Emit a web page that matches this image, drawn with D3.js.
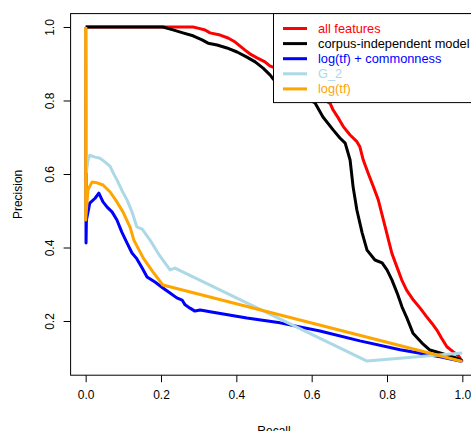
<!DOCTYPE html>
<html>
<head>
<meta charset="utf-8">
<script src="https://cdn.jsdelivr.net/npm/d3@7"></script>
<style>
html,body{margin:0;padding:0;background:#fff;overflow:hidden;}
text{font-family:"Liberation Sans",Arial,Helvetica,sans-serif;}
</style>
</head>
<body>
<svg id="chart" width="471" height="431"></svg>
<script>
// ---- data ----
const seriesNames = ["all features","corpus-independent model","log(tf) + commonness","G_2","log(tf)"];
const seriesColors = ["#ff0000","#000000","#0000ff","#add8e6","#ffa500"];

const allFeaturesRecall = [0,0.285,0.298,0.317,0.330,0.357,0.378,0.397,0.410,0.423,0.436,0.455,0.476,0.489,0.497,
  0.649,0.657,0.671,0.684,0.702,0.720,0.728,0.737,0.750,0.764,0.777,0.786,0.795,0.804,0.813,0.826,0.839,0.852,0.870,0.888,0.905,0.919,0.932,0.945,0.959,0.976,0.989,1.0];
const allFeaturesPrecision = [1.0,1.0,0.997,0.992,0.984,0.978,0.970,0.959,0.948,0.937,0.927,0.916,0.905,0.894,0.891,
  0.792,0.774,0.752,0.729,0.706,0.688,0.674,0.638,0.602,0.565,0.529,0.493,0.457,0.420,0.384,0.348,0.312,0.284,0.257,0.235,0.212,0.194,0.176,0.153,0.130,0.116,0.107,0.089];

const corpusIndRecall = [0,0.205,0.232,0.258,0.285,0.309,0.325,0.349,0.375,0.402,0.428,0.450,0.471,0.490,0.498,
  0.609,0.630,0.657,0.675,0.689,0.702,0.710,0.720,0.734,0.747,0.768,0.787,0.800,0.813,0.827,0.840,0.853,0.869,0.893,0.914,0.941,0.986,1.0];
const corpusIndPrecision = [1.0,1.0,0.992,0.984,0.976,0.965,0.956,0.951,0.943,0.932,0.918,0.905,0.888,0.869,0.858,
  0.793,0.755,0.720,0.698,0.684,0.638,0.565,0.502,0.440,0.393,0.366,0.358,0.339,0.312,0.276,0.238,0.208,0.167,0.140,0.121,0.113,0.099,0.091];

const logtfCommRecall = [0,0.001,0.002,0.011,0.025,0.035,0.046,0.057,0.070,0.083,0.096,0.110,0.123,0.136,0.150,0.163,0.184,0.205,0.224,0.242,0.256,0.264,0.277,0.290,0.304,0.338,0.428,0.516,0.622,0.728,0.835,0.941,1.0];
const logtfCommPrecision = [1.0,0.412,0.475,0.521,0.534,0.548,0.524,0.510,0.497,0.475,0.442,0.412,0.385,0.369,0.344,0.320,0.306,0.290,0.276,0.263,0.257,0.244,0.235,0.227,0.230,0.224,0.208,0.195,0.173,0.146,0.122,0.103,0.090];

const g2Recall = [0,0.002,0.006,0.011,0.025,0.038,0.051,0.065,0.072,0.083,0.096,0.110,0.123,0.136,0.150,0.171,0.197,0.224,0.237,0.747,1.0];
const g2Precision = [1.0,0.605,0.637,0.651,0.646,0.643,0.633,0.621,0.605,0.584,0.556,0.529,0.497,0.456,0.450,0.420,0.377,0.339,0.344,0.091,0.113];

const logtfRecall = [0,0,0.006,0.017,0.030,0.046,0.065,0.083,0.099,0.118,0.128,0.153,0.179,0.205,1.0];
const logtfPrecision = [1.0,0.475,0.557,0.578,0.576,0.570,0.551,0.524,0.497,0.455,0.420,0.371,0.333,0.298,0.090];

const xTicks = [0,0.2,0.4,0.6,0.8,1.0];
const yTicks = [0.2,0.4,0.6,0.8,1.0];
const xTickLabels = ["0.0","0.2","0.4","0.6","0.8","1.0"];
const yTickLabels = ["0.2","0.4","0.6","0.8","1.0"];
const xTitle = "Recall";
const yTitle = "Precision";

// ---- build ----
const seriesData = [
  [allFeaturesRecall, allFeaturesPrecision],
  [corpusIndRecall, corpusIndPrecision],
  [logtfCommRecall, logtfCommPrecision],
  [g2Recall, g2Precision],
  [logtfRecall, logtfPrecision]
].map(([xs, ys], i) => ({name: seriesNames[i], color: seriesColors[i], pts: xs.map((x, j) => [x, ys[j]])}));

const allX = seriesData.flatMap(s => s.pts.map(p => p[0]));
const allY = seriesData.flatMap(s => s.pts.map(p => p[1]));
const xr = d3.extent(allX), yr = d3.extent(allY);
const xPad = (xr[1]-xr[0])*0.04, yPad = (yr[1]-yr[0])*0.04;

const pL = 70.6, pR = 477.4, pT = 13.6, pB = 375.2;
const x = d3.scaleLinear().domain([xr[0]-xPad, xr[1]+xPad]).range([pL, pR]);
const y = d3.scaleLinear().domain([yr[0]-yPad, yr[1]+yPad]).range([pB, pT]);

const svg = d3.select("#chart");

svg.append("clipPath").attr("id","plotclip")
  .append("rect").attr("x", pL).attr("y", pT).attr("width", pR-pL).attr("height", pB-pT);

const line = d3.line().x(d => x(d[0])).y(d => y(d[1]));
const g = svg.append("g").attr("clip-path","url(#plotclip)");
seriesData.forEach(s => {
  g.append("path").attr("d", line(s.pts)).attr("fill","none")
    .attr("stroke", s.color).attr("stroke-width", 3).attr("stroke-linejoin","round").attr("stroke-linecap","butt");
});

// box
svg.append("rect").attr("x", pL).attr("y", pT).attr("width", pR-pL).attr("height", pB-pT)
  .attr("fill","none").attr("stroke","#000").attr("stroke-width",1);

// x axis
const xAxis = d3.axisBottom(x).tickValues(xTicks).tickSize(7).tickPadding(8)
  .tickFormat((d,i) => xTickLabels[i]);
const gx = svg.append("g").attr("transform", `translate(0,${pB})`).call(xAxis);
gx.select(".domain").remove();
gx.selectAll(".tick line").attr("stroke","#000");
gx.selectAll("text").attr("font-size", 12).attr("fill","#000")
  .attr("font-family",'"Liberation Sans",Arial,sans-serif');

// y axis
const yAxis = d3.axisLeft(y).tickValues(yTicks).tickSize(7).tickFormat((d,i) => yTickLabels[i]);
const gy = svg.append("g").attr("transform", `translate(${pL},0)`).call(yAxis);
gy.select(".domain").remove();
gy.selectAll(".tick line").attr("stroke","#000");
gy.selectAll("text").attr("font-size", 12).attr("fill","#000")
  .attr("font-family",'"Liberation Sans",Arial,sans-serif')
  .attr("x", null).attr("dy", null)
  .attr("text-anchor","middle")
  .attr("transform","translate(-17,0) rotate(-90)");

// titles
svg.append("text").attr("x", (pL+pR)/2).attr("y", 435).attr("text-anchor","middle")
  .attr("font-size", 12).attr("fill","#000").text(xTitle);
svg.append("text").attr("transform", `translate(22,${(pT+pB)/2}) rotate(-90)`).attr("text-anchor","middle")
  .attr("font-size", 12).attr("fill","#000").text(yTitle);

// legend
const lgX = 273.5, lgY = pT, lgH = 89;
svg.append("rect").attr("x", lgX).attr("y", lgY).attr("width", 260).attr("height", lgH)
  .attr("fill","#fff").attr("stroke","#000").attr("stroke-width",1);
seriesData.forEach((s, i) => {
  const yy = 28.5 + i*15.1;
  svg.append("line").attr("x1", 283).attr("x2", 307).attr("y1", yy).attr("y2", yy)
    .attr("stroke", s.color).attr("stroke-width", 3);
  svg.append("text").attr("x", 318).attr("y", yy).attr("dy","0.35em")
    .attr("font-size", 12.8).attr("fill", s.color).text(s.name);
});
</script>
</body>
</html>
